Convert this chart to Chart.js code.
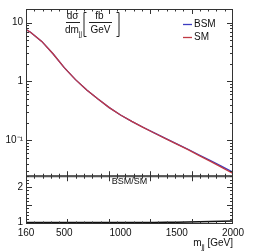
<!DOCTYPE html>
<html>
<head>
<meta charset="utf-8">
<script src="https://cdn.jsdelivr.net/npm/chart.js@4.4.1/dist/chart.umd.min.js"></script>
<style>
  html, body { margin: 0; padding: 0; background: #fff; }
  #wrap { width: 259px; height: 252px; }
</style>
</head>
<body>
<div id="wrap"><canvas id="chart" width="259" height="252"></canvas></div>
<script>
// values
const mjj = [160, 200, 300, 400, 500, 600, 700, 800, 900, 1000, 1100, 1200, 1300, 1400, 1500, 1600, 1700, 1800, 1900, 2000];
const smXsec = [7.59, 6.84, 4.79, 2.95, 1.718, 1.072, 0.716, 0.501, 0.359, 0.269, 0.209, 0.166, 0.133, 0.107, 0.0861, 0.0692, 0.0550, 0.0437, 0.0347, 0.0272];
const bsmXsec = [7.59, 6.84, 4.79, 2.95, 1.718, 1.072, 0.716, 0.501, 0.359, 0.2693, 0.2094, 0.1665, 0.1337, 0.1079, 0.0871, 0.0704, 0.0563, 0.0450, 0.0360, 0.0285];
const ratioValues = [1.0, 1.0, 1.0, 1.0, 1.0, 1.0, 1.0, 1.0, 1.0, 1.001, 1.002, 1.003, 1.005, 1.008, 1.012, 1.017, 1.023, 1.03, 1.038, 1.047];

const xTickValues = [160, 500, 1000, 1500, 2000];
const yTickValues = [0.1, 1, 10];
const yTickLabels = ['10\u207B\u00B9', '1', '10'];
const ratioTickValues = [1, 1.5, 2];

const FONT = 'Liberation Sans, Arial, sans-serif';
const BLUE = '#3c3cc0';
const RED = '#c03a44';

function toPoints(ys) {
  return mjj.map((x, i) => ({ x, y: ys[i] }));
}

// ROOT-like frames, inward ticks and the extra texts
const framePlugin = {
  id: 'frame',
  afterDraw(chart) {
    const ctx = chart.ctx;
    const ca = chart.chartArea;
    const xs = chart.scales.x;
    const panels = [chart.scales.y, chart.scales.yr];
    ctx.save();
    ctx.strokeStyle = '#333';
    ctx.lineWidth = 1;

    panels.forEach((s) => {
      ctx.strokeRect(ca.left + 0.5, s.top + 0.5, ca.right - ca.left - 1, s.bottom - s.top - 1);

      // x ticks, 25 divisions
      const step = (xs.max - xs.min) / 25;
      ctx.beginPath();
      for (let i = 1; i < 25; i++) {
        const px = Math.round(xs.getPixelForValue(xs.min + i * step)) + 0.5;
        const len = i % 5 === 0 ? 5 : 2.5;
        ctx.moveTo(px, s.top); ctx.lineTo(px, s.top + len);
        ctx.moveTo(px, s.bottom); ctx.lineTo(px, s.bottom - len);
      }
      ctx.stroke();
    });

    // log y ticks
    const ys = chart.scales.y;
    ctx.beginPath();
    for (let d = -2; d <= 1; d++) {
      for (let m = 1; m <= 9; m++) {
        const v = m * Math.pow(10, d);
        if (v < ys.min || v > ys.max) continue;
        const py = Math.round(ys.getPixelForValue(v)) + 0.5;
        const len = m === 1 ? 6 : 3;
        ctx.moveTo(ca.left, py); ctx.lineTo(ca.left + len, py);
        ctx.moveTo(ca.right, py); ctx.lineTo(ca.right - len, py);
      }
    }
    // ratio ticks
    const rs = chart.scales.yr;
    for (let i = 10; i <= 23; i++) {
      const v = i / 10;
      const py = Math.round(rs.getPixelForValue(v)) + 0.5;
      const len = i % 5 === 0 ? 6 : 3;
      ctx.moveTo(ca.left, py); ctx.lineTo(ca.left + len, py);
      ctx.moveTo(ca.right, py); ctx.lineTo(ca.right - len, py);
    }
    ctx.stroke();

    ctx.fillStyle = '#111';
    ctx.textBaseline = 'middle';

    // y title as a fraction
    ctx.textAlign = 'center';
    ctx.font = '10px ' + FONT;
    ctx.fillText('d\u03C3', 72.5, 16);
    ctx.fillText('dm', 72, 30);
    ctx.font = '6.5px ' + FONT;
    ctx.fillText('jj', 80.5, 34);
    ctx.font = '10px ' + FONT;
    ctx.fillText('fb', 99.5, 16);
    ctx.fillText('GeV', 100.5, 30);
    ctx.strokeStyle = '#222';
    ctx.beginPath();
    ctx.moveTo(66, 22.5); ctx.lineTo(80, 22.5);
    ctx.moveTo(89, 22.5); ctx.lineTo(112, 22.5);
    ctx.moveTo(86.5, 12.5); ctx.lineTo(84, 12.5); ctx.lineTo(84, 36.5); ctx.lineTo(86.5, 36.5);
    ctx.moveTo(116.5, 12.5); ctx.lineTo(119, 12.5); ctx.lineTo(119, 36.5); ctx.lineTo(116.5, 36.5);
    ctx.stroke();

    // legend
    ctx.textAlign = 'left';
    ctx.font = '10px ' + FONT;
    ctx.lineWidth = 1.3;
    [chart.data.datasets[0], chart.data.datasets[1]].forEach((ds, i) => {
      const y = 24.5 + i * 13;
      ctx.strokeStyle = ds.borderColor;
      ctx.beginPath();
      ctx.moveTo(183, y); ctx.lineTo(192, y);
      ctx.stroke();
      ctx.fillText(ds.label, 194, y);
    });

    // ratio label
    ctx.textAlign = 'center';
    ctx.font = '9px ' + FONT;
    ctx.fillText('BSM/SM', (ca.left + ca.right) / 2, rs.top + 5.5);

    // x title
    ctx.textAlign = 'right';
    ctx.textBaseline = 'alphabetic';
    ctx.font = '10px ' + FONT;
    const unit = ' [GeV]';
    ctx.fillText(unit, ca.right, 246);
    let xr = ca.right - ctx.measureText(unit).width;
    ctx.font = '7px ' + FONT;
    ctx.fillText('jj', xr, 248.5);
    xr -= ctx.measureText('jj').width;
    ctx.font = '10px ' + FONT;
    ctx.fillText('m', xr, 246);
    ctx.restore();
  }
};

new Chart(document.getElementById('chart'), {
  type: 'line',
  data: {
    datasets: [
      { label: 'BSM', data: toPoints(bsmXsec), yAxisID: 'y', borderColor: BLUE, borderWidth: 1.3, pointRadius: 0, order: 1 },
      { label: 'SM', data: toPoints(smXsec), yAxisID: 'y', borderColor: RED, borderWidth: 1.3, pointRadius: 0, order: 0 },
      { label: 'BSM/SM', data: toPoints(ratioValues), yAxisID: 'yr', borderColor: '#111', borderWidth: 1.5, pointRadius: 0, order: 2 }
    ]
  },
  options: {
    responsive: false,
    animation: false,
    devicePixelRatio: 1,
    layout: { autoPadding: false, padding: { left: 0, top: 8, right: 26, bottom: 0 } },
    plugins: { legend: { display: false }, tooltip: { enabled: false } },
    scales: {
      x: {
        type: 'linear', min: 160, max: 2000,
        afterFit: (s) => { s.height = 28; },
        afterBuildTicks: (s) => { s.ticks = xTickValues.map((v) => ({ value: v })); },
        ticks: { font: { family: FONT, size: 10 }, color: '#111', padding: 3, maxRotation: 0, autoSkip: false, callback: (v) => String(v) },
        grid: { display: false, drawTicks: false },
        border: { display: false }
      },
      yr: {
        type: 'linear', min: 0.96, max: 2.3,
        position: 'left', stack: 'panels', stackWeight: 1,
        afterFit: (s) => { s.width = 26; },
        afterBuildTicks: (s) => { s.ticks = ratioTickValues.map((v) => ({ value: v })); },
        ticks: { font: { family: FONT, size: 10 }, color: '#111', padding: 3, callback: (v) => String(v) },
        grid: { display: false, drawTicks: false },
        border: { display: false }
      },
      y: {
        type: 'logarithmic', min: 0.0245, max: 17,
        position: 'left', stack: 'panels', stackWeight: 3.5,
        afterFit: (s) => { s.width = 26; },
        afterBuildTicks: (s) => { s.ticks = yTickValues.map((v) => ({ value: v })); },
        ticks: {
          font: { family: FONT, size: 10 }, color: '#111', padding: 3,
          callback: (v) => yTickLabels[yTickValues.indexOf(v)]
        },
        grid: { display: false, drawTicks: false },
        border: { display: false }
      }
    }
  },
  plugins: [framePlugin]
});
</script>
</body>
</html>
